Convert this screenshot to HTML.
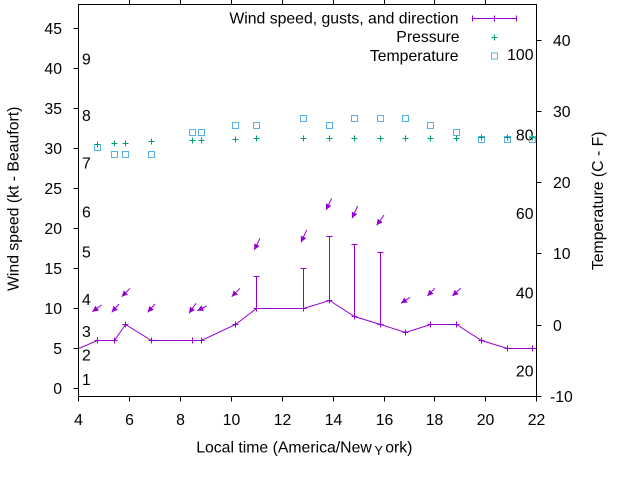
<!DOCTYPE html>
<html><head><meta charset="utf-8"><style>
html,body{margin:0;padding:0;background:#fff;}
svg{display:block;}
</style></head><body>
<svg width="640" height="480" viewBox="0 0 640 480" xmlns="http://www.w3.org/2000/svg" font-family="'Liberation Sans', Arial, sans-serif" font-size="15.8" fill="#000">
<defs>
<marker id="ah" markerUnits="userSpaceOnUse" markerWidth="8" markerHeight="8" refX="6" refY="3" orient="auto"><path d="M0,0 L6,3 L0,6 z" fill="#9400d3"/></marker>
<clipPath id="cp"><rect x="78.5" y="4.5" width="458" height="392"/></clipPath>
</defs>
<rect width="640" height="480" fill="#fff"/>

<!-- border -->
<path d="M78.5,4.5 H536.5 V396.5 H78.5 Z" fill="none" stroke="#000" stroke-width="1"/>

<!-- left ticks -->
<path stroke="#000" stroke-width="1" d="M73.5,388.5H78.5M73.5,348.5H78.5M73.5,308.5H78.5M73.5,268.5H78.5M73.5,228.5H78.5M73.5,188.5H78.5M73.5,148.5H78.5M73.5,108.5H78.5M73.5,68.5H78.5M73.5,28.5H78.5"/>
<!-- right ticks -->
<path stroke="#000" stroke-width="1" d="M536.5,396.5H541.5M536.5,325.5H541.5M536.5,253.5H541.5M536.5,182.5H541.5M536.5,111.5H541.5M536.5,40.5H541.5"/>
<!-- bottom ticks -->
<path stroke="#000" stroke-width="1" d="M78.5,396.5V401.5M129.5,396.5V401.5M180.5,396.5V401.5M231.5,396.5V401.5M282.5,396.5V401.5M333.5,396.5V401.5M384.5,396.5V401.5M434.5,396.5V401.5M485.5,396.5V401.5M536.5,396.5V401.5"/>
<!-- top ticks -->
<path stroke="#000" stroke-width="1" d="M129.5,0V4.5M180.5,0V4.5M231.5,0V4.5M282.5,0V4.5M333.5,0V4.5M384.5,0V4.5M434.5,0V4.5M485.5,0V4.5"/>

<!-- left tick labels -->
<g text-anchor="end">
<text x="62" y="394">0</text>
<text x="62" y="354">5</text>
<text x="62" y="314">10</text>
<text x="62" y="274">15</text>
<text x="62" y="234">20</text>
<text x="62" y="194">25</text>
<text x="62" y="154">30</text>
<text x="62" y="114">35</text>
<text x="62" y="74">40</text>
<text x="62" y="34">45</text>
</g>
<!-- right tick labels -->
<g text-anchor="start">
<text x="550" y="402">-10</text>
<text x="553" y="331">0</text>
<text x="553" y="259">10</text>
<text x="553" y="188">20</text>
<text x="553" y="117">30</text>
<text x="553" y="46">40</text>
</g>
<!-- x tick labels -->
<g text-anchor="middle">
<text x="78.5" y="425">4</text>
<text x="129.5" y="425">6</text>
<text x="180.5" y="425">8</text>
<text x="231.5" y="425">10</text>
<text x="282.5" y="425">12</text>
<text x="333.5" y="425">14</text>
<text x="384.5" y="425">16</text>
<text x="434.5" y="425">18</text>
<text x="485.5" y="425">20</text>
<text x="536.5" y="425">22</text>
</g>

<!-- Beaufort labels -->
<g text-anchor="start">
<text x="82" y="385">1</text>
<text x="82" y="360.6">2</text>
<text x="82" y="337">3</text>
<text x="82" y="305">4</text>
<text x="82" y="257.3">5</text>
<text x="82" y="217.3">6</text>
<text x="82" y="168.4">7</text>
<text x="82" y="121">8</text>
<text x="82" y="64.5">9</text>
</g>
<!-- Fahrenheit labels -->
<g text-anchor="end">
<text x="533.5" y="59.8">100</text>
<text x="533.5" y="140.6">80</text>
<text x="533.5" y="219">60</text>
<text x="533.5" y="298.3">40</text>
<text x="533.5" y="376.6">20</text>
</g>

<!-- axis titles -->
<text transform="translate(18.5,198.8) rotate(-90)" text-anchor="middle">Wind speed (kt - Beaufort)</text>
<text transform="translate(603,200.8) rotate(-90)" text-anchor="middle">Temperature (C - F)</text>
<text x="196.2" y="452.3">Local time (America/New</text>
<text x="374.5" y="455" font-size="12.6">Y</text>
<text x="385.2" y="452.3">ork)</text>

<!-- legend -->
<g text-anchor="end">
<text x="458.5" y="23.3">Wind speed, gusts, and direction</text>
<text x="459.5" y="42.2">Pressure</text>
<text x="458.5" y="60.8">Temperature</text>
</g>
<path stroke="#9400d3" stroke-width="1" fill="none" d="M472.5,18.5H516.5M472.5,15.5V21.5M516.5,15.5V21.5M494.5,15.5V21.5"/>
<path stroke="#009e73" stroke-width="1" fill="none" d="M491.5,37.5H497.5M494.5,34.5V40.5"/>
<rect x="491.5" y="53" width="6" height="6" fill="none" stroke="#56b4e9" stroke-width="1"/>

<g clip-path="url(#cp)">
<!-- temperature squares -->
<g fill="none" stroke="#56b4e9" stroke-width="1">
<rect x="94.5" y="144.5" width="6" height="6"/>
<rect x="111.5" y="151.5" width="6" height="6"/>
<rect x="122.5" y="151.5" width="6" height="6"/>
<rect x="148.5" y="151.5" width="6" height="6"/>
<rect x="189.5" y="129.5" width="6" height="6"/>
<rect x="198.5" y="129.5" width="6" height="6"/>
<rect x="232.5" y="122.5" width="6" height="6"/>
<rect x="253.5" y="122.5" width="6" height="6"/>
<rect x="300.5" y="115.5" width="6" height="6"/>
<rect x="326.5" y="122.5" width="6" height="6"/>
<rect x="351.5" y="115.5" width="6" height="6"/>
<rect x="377.5" y="115.5" width="6" height="6"/>
<rect x="402.5" y="115.5" width="6" height="6"/>
<rect x="427.5" y="122.5" width="6" height="6"/>
<rect x="453.5" y="129.5" width="6" height="6"/>
<rect x="478.5" y="136.5" width="6" height="6"/>
<rect x="504.5" y="136.5" width="6" height="6"/>
<rect x="529.5" y="136.5" width="6" height="6"/>
</g>
<!-- pressure plus -->
<path fill="none" stroke="#009e73" stroke-width="1" d="
M94.5,144.5h6M97.5,141.5v6
M111.5,143.5h6M114.5,140.5v6
M122.5,143.5h6M125.5,140.5v6
M148.5,141.5h6M151.5,138.5v6
M189.5,140.5h6M192.5,137.5v6
M198.5,140.5h6M201.5,137.5v6
M232.5,139.5h6M235.5,136.5v6
M253.5,138.5h6M256.5,135.5v6
M300.5,138.5h6M303.5,135.5v6
M326.5,138.5h6M329.5,135.5v6
M351.5,138.5h6M354.5,135.5v6
M377.5,138.5h6M380.5,135.5v6
M402.5,138.5h6M405.5,135.5v6
M427.5,138.5h6M430.5,135.5v6
M453.5,138.5h6M456.5,135.5v6
M478.5,137.5h6M481.5,134.5v6
M504.5,137.5h6M507.5,134.5v6
M529.5,137.5h6M532.5,134.5v6"/>

<!-- wind line -->
<polyline fill="none" stroke="#9400d3" stroke-width="1" points="78.5,348.5 97.5,340.5 114.5,340.5 125.5,324.5 151.5,340.5 192.5,340.5 201.5,340.5 235.5,324.5 256.5,308.5 303.5,308.5 329.5,300.5 354.5,316.5 380.5,324.5 405.5,332.5 430.5,324.5 456.5,324.5 481.5,340.5 507.5,348.5 532.5,348.5 536.5,348.5"/>
<!-- wind point markers -->
<path fill="none" stroke="#9400d3" stroke-width="1" d="
M94.5,340.5h6M97.5,337.5v6
M111.5,340.5h6M114.5,337.5v6
M122.5,324.5h6M125.5,321.5v6
M148.5,340.5h6M151.5,337.5v6
M189.5,340.5h6M192.5,337.5v6
M198.5,340.5h6M201.5,337.5v6
M232.5,324.5h6M235.5,321.5v6
M253.5,308.5h6M256.5,305.5v6
M300.5,308.5h6M303.5,305.5v6
M326.5,300.5h6M329.5,297.5v6
M351.5,316.5h6M354.5,313.5v6
M377.5,324.5h6M380.5,321.5v6
M402.5,332.5h6M405.5,329.5v6
M427.5,324.5h6M430.5,321.5v6
M453.5,324.5h6M456.5,321.5v6
M478.5,340.5h6M481.5,337.5v6
M504.5,348.5h6M507.5,345.5v6
M529.5,348.5h6M532.5,345.5v6"/>
<!-- gust bars -->
<path fill="none" stroke="#9400d3" stroke-width="1" d="
M256.5,308.5V276.5M253.5,276.5h6
M303.5,308.5V268.5M300.5,268.5h6
M329.5,300.5V236.5M326.5,236.5h6
M354.5,316.5V244.5M351.5,244.5h6
M380.5,324.5V252.5M377.5,252.5h6"/>
<!-- direction arrows -->
<g stroke="#9400d3" stroke-width="1" marker-end="url(#ah)">
<line x1="101.7" y1="305" x2="92.3" y2="311.7"/>
<line x1="119" y1="304" x2="111.7" y2="312.3"/>
<line x1="130" y1="288.3" x2="121.7" y2="296.7"/>
<line x1="155" y1="304" x2="147.7" y2="312.3"/>
<line x1="196" y1="303.3" x2="189" y2="313.3"/>
<line x1="206.7" y1="306" x2="197.3" y2="310.7"/>
<line x1="240" y1="288.3" x2="231.7" y2="296.7"/>
<line x1="260" y1="238.3" x2="254.3" y2="250"/>
<line x1="306.7" y1="230" x2="301" y2="242.3"/>
<line x1="331.7" y1="198.3" x2="326" y2="210"/>
<line x1="357.7" y1="206" x2="352" y2="218.3"/>
<line x1="384" y1="215" x2="376.7" y2="225.3"/>
<line x1="410" y1="297.3" x2="401" y2="303.3"/>
<line x1="435" y1="288.3" x2="427.3" y2="296"/>
<line x1="460.7" y1="288.3" x2="452.3" y2="296"/>
</g>
</g>
</svg>
</body></html>
